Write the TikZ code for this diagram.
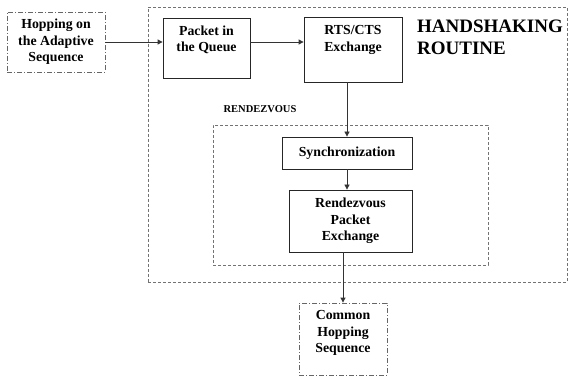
\documentclass[tikz,border=0pt]{standalone}
\usepackage{fontspec}
\setmainfont{Liberation Serif}
\usetikzlibrary{arrows.meta}

\begin{document}
\begin{tikzpicture}[
                x=1pt, y=-1pt,
                box/.style={draw=black!85, line width=0.8pt, inner sep=0pt,
                        font=\fontsize{13.8}{16.5}\selectfont\bfseries, align=center},
                endbox/.style={box, draw=black!60, dash pattern=on 5pt off 2pt on 1pt off 2pt},
                frame/.style={draw=black!55, line width=0.7pt, dash pattern=on 3pt off 2pt, inner sep=0pt},
                txt/.style={font=\fontsize{13.8}{16.5}\selectfont\bfseries, align=center, inner sep=0pt},
                flow/.style={draw=black!80, line width=0.8pt, -{Triangle[length=5pt, width=5pt]}} ]

            \useasboundingbox (0,0) rectangle (570,379);

            % group frames
            \node[frame, minimum width=419pt, minimum height=275pt] (handshake) at (357.5,144.5) {};
            \node[frame, minimum width=275pt, minimum height=140pt] (rendezvous) at (350.5,195) {};
            \node[font=\fontsize{19}{21.5}\selectfont\bfseries, align=left, anchor=west, inner sep=0pt]
                (title) at (417,37.5) {HANDSHAKING\\ROUTINE};
            \node[font=\fontsize{10.5}{12}\selectfont\bfseries, inner sep=0pt] (rzlabel) at (260,109) {RENDEZVOUS};

            % boxes
            \node[endbox, minimum width=98pt, minimum height=60pt] (hop) at (56,42)
                {Hopping on\\the Adaptive\\Sequence};
            \node[box, minimum width=87pt, minimum height=60pt] (pkt) at (206.5,48) {};
            \node[txt] (pkttxt) at (206.5,40) {Packet in\\the Queue};
            \node[box, minimum width=98pt, minimum height=65pt] (rts) at (353,49.5) {};
            \node[txt] (rtstxt) at (353,40) {RTS/CTS\\Exchange};
            \node[box, minimum width=130pt, minimum height=32pt] (sync) at (347,153) {Synchronization};
            \node[box, minimum width=123pt, minimum height=62pt] (rpe) at (350.5,221)
                {Rendezvous\\Packet\\Exchange};
            \node[endbox, minimum width=88pt, minimum height=72pt] (common) at (343,339) {};
            \node[txt] (commontxt) at (343,333) {Common\\Hopping\\Sequence};

            % connectors
            \draw[flow] (hop.east) -- (hop.east -| pkt.west);
            \draw[flow] (hop.east -| pkt.east) -- (hop.east -| rts.west);
            \draw[flow] (sync.north |- rts.south) -- (sync.north);
            \draw[flow] (sync.south) -- (sync.south |- rpe.north);
            \draw[flow] (common.north |- rpe.south) -- (common.north);

        \end{tikzpicture}
\end{document}
